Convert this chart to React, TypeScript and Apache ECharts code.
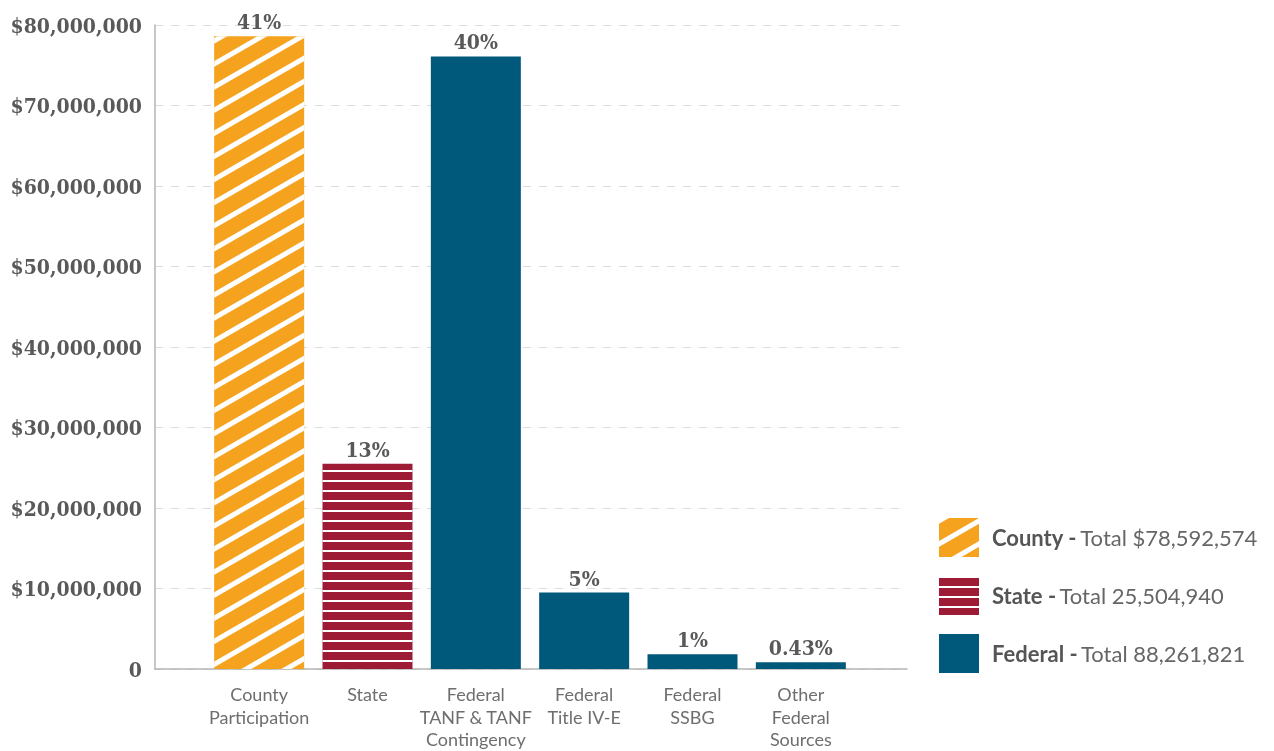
import React, { useEffect, useRef } from "react";
import * as echarts from "echarts";

const categories = [
  "County\nParticipation",
  "State",
  "Federal\nTANF & TANF\nContingency",
  "Federal\nTitle IV-E",
  "Federal\nSSBG",
  "Other\nFederal\nSources",
];
const countyValues = [78592574, "-", "-", "-", "-", "-"];
const stateValues = ["-", 25504940, "-", "-", "-", "-"];
const federalValues = ["-", "-", 76100000, 9500000, 1830000, 831821];
const percentLabels = ["41%", "13%", "40%", "5%", "1%", "0.43%"];
const legendTotals: Record<string, string> = {
  County: "$78,592,574",
  State: "25,504,940",
  Federal: "88,261,821",
};
const yTicks = { min: 0, max: 80000000, interval: 10000000 };

const SLAB = "'DejaVu Serif Condensed', 'DejaVu Serif', serif";
const SANS = "Lato, 'Open Sans', sans-serif";

export default function App() {
  const ref = useRef<HTMLDivElement>(null);
  useEffect(() => {
    const chart = echarts.init(ref.current!, null, { renderer: "svg" });
    const label = {
      show: true,
      position: "top" as const,
      distance: 4,
      formatter: (p: any) => percentLabels[p.dataIndex],
      fontFamily: SLAB,
      fontWeight: "bold" as const,
      fontSize: 21,
      color: "#595959",
    };
    chart.setOption({
      animation: false,
      grid: [
        { left: 155, right: 367, top: 25, bottom: 82 },
        { left: 205, right: 419, top: 25, bottom: 82 },
      ],
      xAxis: [
        {
          gridIndex: 0,
          type: "value",
          min: 0,
          max: 1,
          axisLine: { show: true, lineStyle: { color: "#b5b5b5", width: 1.5 } },
          axisTick: { show: false },
          axisLabel: { show: false },
          splitLine: { show: false },
        },
        {
          gridIndex: 1,
          type: "category",
          data: categories,
          axisLine: { show: false },
          axisTick: { show: false },
          axisLabel: {
            fontFamily: SANS,
            fontSize: 18,
            lineHeight: 22.5,
            color: "#6e6e6e",
            margin: 14,
            interval: 0,
          },
        },
      ],
      yAxis: [
        {
          gridIndex: 0,
          type: "value",
          ...yTicks,
          axisLine: { show: true, lineStyle: { color: "#b5b5b5", width: 1.5 } },
          axisTick: { show: false },
          axisLabel: {
            margin: 13,
            fontFamily: SLAB,
            fontWeight: "bold",
            fontSize: 21,
            color: "#595959",
            formatter: (v: number) =>
              v === 0 ? "0" : "$" + v.toLocaleString("en-US"),
          },
          splitLine: {
            show: true,
            lineStyle: { color: "#dcdcdc", type: [8, 8], width: 1 },
          },
        },
        { gridIndex: 1, type: "value", ...yTicks, show: false, splitLine: { show: false } },
      ],
      legend: {
        orient: "vertical",
        left: 939,
        top: 518,
        padding: 0,
        itemWidth: 40,
        itemHeight: 39,
        itemGap: 19,
        icon: "rect",
        data: ["County", "State", "Federal"],
        formatter: (name: string) => `{b|${name} -} {r|Total ${legendTotals[name]}}`,
        textStyle: {
          padding: [0, 0, 0, 8],
          rich: {
            b: { fontFamily: SANS, fontWeight: "bold", fontSize: 22, color: "#555" },
            r: { fontFamily: SANS, fontSize: 22, color: "#666" },
          },
        },
      },
      series: [
        {
          name: "County",
          type: "bar",
          xAxisIndex: 1,
          yAxisIndex: 1,
          stack: "all",
          barWidth: 90,
          data: countyValues,
          itemStyle: {
            color: "#F5A21E",
            decal: {
              symbol: "rect",
              color: "#ffffff",
              dashArrayX: [1, 0],
              dashArrayY: [5, 15],
              rotation: -Math.PI / 6,
            },
          },
          label,
        },
        {
          name: "State",
          type: "bar",
          xAxisIndex: 1,
          yAxisIndex: 1,
          stack: "all",
          barWidth: 90,
          data: stateValues,
          itemStyle: {
            color: "#9E1B36",
            decal: {
              symbol: "rect",
              color: "#ffffff",
              dashArrayX: [1, 0],
              dashArrayY: [2, 8],
              rotation: 0,
            },
          },
          label,
        },
        {
          name: "Federal",
          type: "bar",
          xAxisIndex: 1,
          yAxisIndex: 1,
          stack: "all",
          barWidth: 90,
          data: federalValues,
          itemStyle: { color: "#00587A" },
          label,
        },
      ],
    });
    return () => chart.dispose();
  }, []);
  return (
    <div
      ref={ref}
      style={{ position: "fixed", left: 0, top: 0, width: 1274, height: 751 }}
    />
  );
}
